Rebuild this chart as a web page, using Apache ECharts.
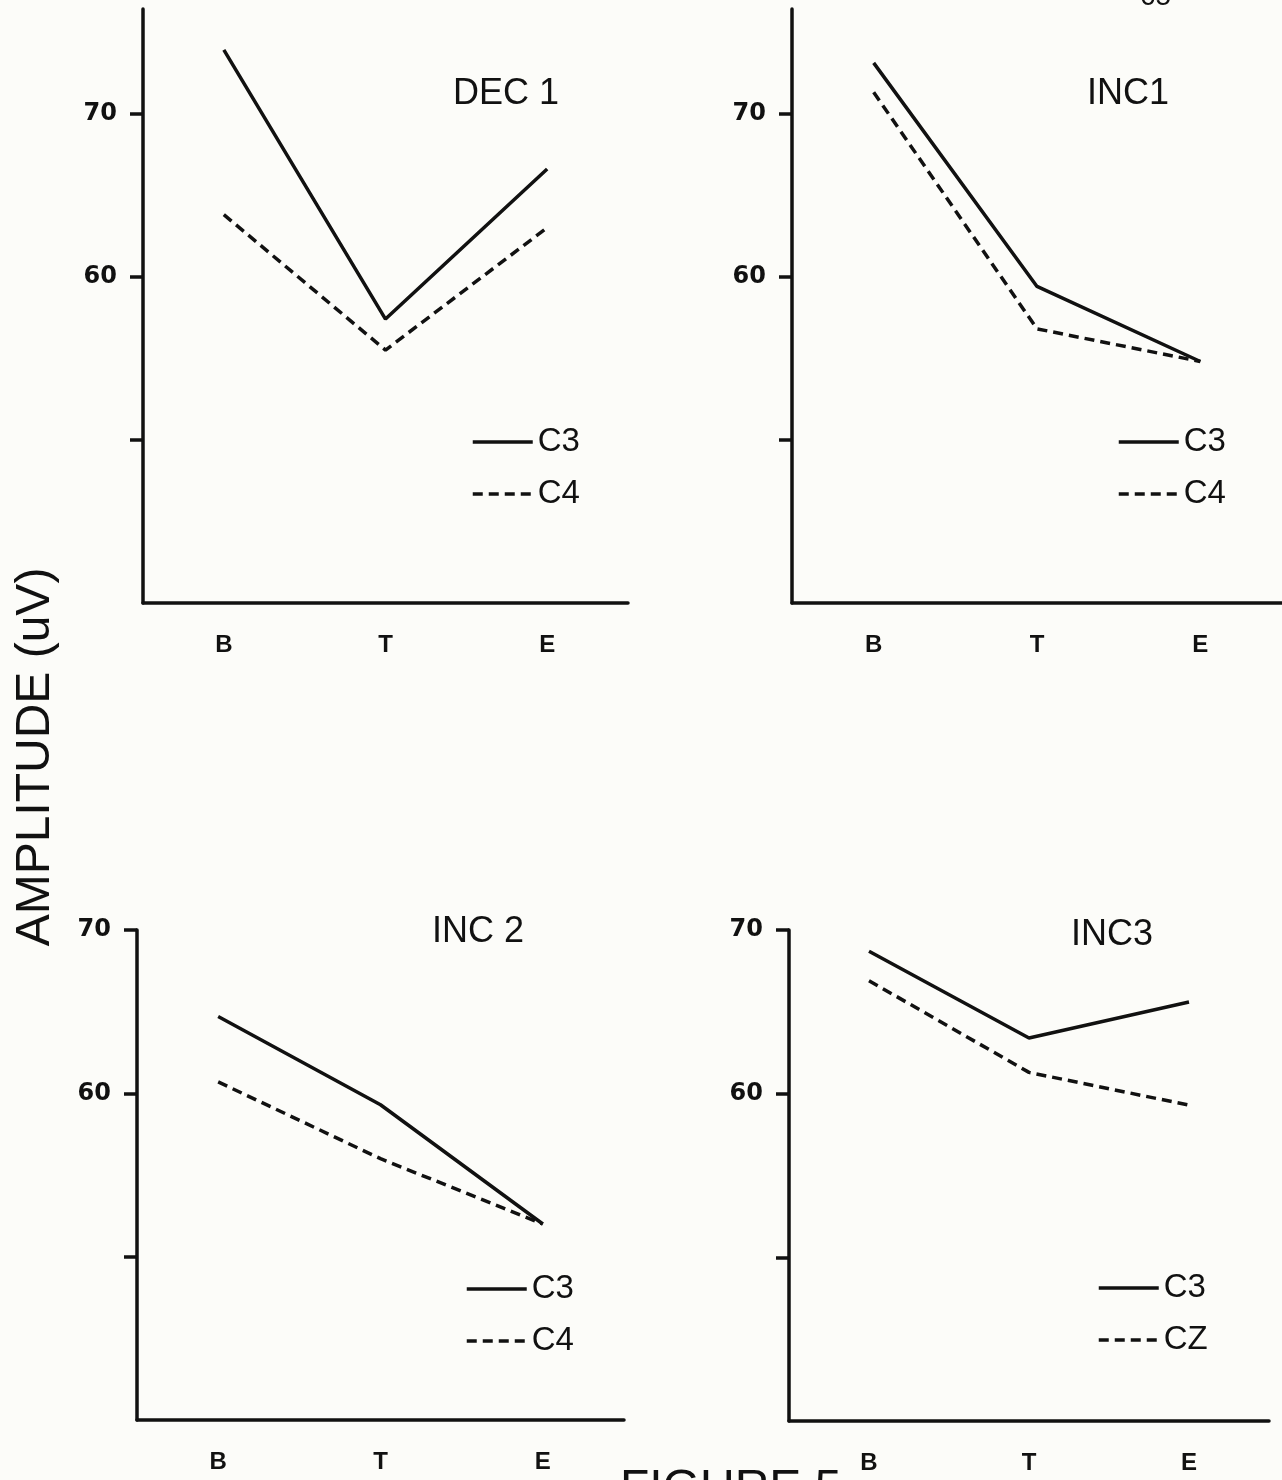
<!DOCTYPE html>
<html>
<head>
<meta charset="utf-8">
<script src="https://cdn.jsdelivr.net/npm/echarts@6/dist/echarts.min.js"></script>
<style>
  html, body { margin: 0; padding: 0; background: #fcfcf9; }
  #main { width: 1282px; height: 1480px; }
</style>
</head>
<body>
<div id="main"></div>
<script>
// 横轴分类
const phases = ["B", "T", "E"];
const panelTitles = ["DEC 1", "INC1", "INC 2", "INC3"];
const channelNames = [["C3", "C4"], ["C3", "C4"], ["C3", "C4"], ["C3", "CZ"]];

// 各面板数值 (uV)
const dec1C3 = [73.9, 57.4, 66.6];
const dec1C4 = [63.8, 55.5, 63.0];
const inc1C3 = [73.1, 59.4, 54.8];
const inc1C4 = [71.3, 56.8, 54.8];
const inc2C3 = [64.7, 59.3, 52.0];
const inc2C4 = [60.7, 56.0, 52.0];
const inc3C3 = [68.7, 63.4, 65.6];
const inc3CZ = [66.9, 61.3, 59.3];

// 纵轴刻度
const tickValues = [50, 60, 70];
const labelValues = [60, 70];

const panelData = [
  [dec1C3, dec1C4],
  [inc1C3, inc1C4],
  [inc2C3, inc2C4],
  [inc3C3, inc3CZ]
];

// 布局
const layout = [
  { left: 143, top: 9, width: 485, height: 594, yMax: 76.4, titleX: 453, titleY: 76, legX: 471, legY: 424 },
  { left: 792, top: 9, width: 490, height: 594, yMax: 76.4, titleX: 1087, titleY: 76, legX: 1117, legY: 424 },
  { left: 137, top: 930, width: 487, height: 490, yMax: 70, titleX: 432, titleY: 914, legX: 465, legY: 1271 },
  { left: 789, top: 930, width: 480, height: 491, yMax: 70, titleX: 1071, titleY: 917, legX: 1097, legY: 1270 }
];

const ink = "#111";
const font = "Liberation Sans";

let chart = echarts.init(document.getElementById("main"));

const grid = [], xAxis = [], yAxis = [], series = [], title = [], legend = [];

layout.forEach(function(p, i) {
  grid.push({ left: p.left, top: p.top, width: p.width, height: p.height, containLabel: false });
  xAxis.push({
    type: "category",
    gridIndex: i,
    data: phases,
    boundaryGap: true,
    axisLine: { onZero: false, lineStyle: { color: ink, width: 3.5 } },
    axisTick: { alignWithLabel: true, length: 13, lineStyle: { color: ink, width: 3.5 } },
    axisLabel: { color: ink, fontFamily: font, fontWeight: "bold", fontSize: 24, margin: 30 },
    splitLine: { show: false }
  });
  yAxis.push({
    type: "value",
    gridIndex: i,
    min: 40,
    max: p.yMax,
    interval: 10,
    axisLine: { show: true, lineStyle: { color: ink, width: 3.5 } },
    axisTick: { show: true, length: 13, customValues: tickValues, lineStyle: { color: ink, width: 3.5 } },
    axisLabel: { color: ink, fontFamily: "DejaVu Sans", fontWeight: "bold", fontSize: 24, margin: 26, customValues: labelValues },
    splitLine: { show: false }
  });
  title.push({
    text: panelTitles[i],
    left: p.titleX,
    top: p.titleY,
    padding: 0,
    textStyle: { color: ink, fontFamily: font, fontWeight: "normal", fontSize: 36 }
  });
  legend.push({
    data: channelNames[i],
    orient: "vertical",
    left: p.legX,
    top: p.legY,
    padding: 0,
    itemWidth: 60,
    itemHeight: 14,
    itemGap: 16,
    selectedMode: false,
    itemStyle: { opacity: 0 },
    lineStyle: { width: 3.5 },
    textStyle: { color: ink, fontFamily: font, fontSize: 33, lineHeight: 36 }
  });
  panelData[i].forEach(function(vals, k) {
    series.push({
      name: channelNames[i][k],
      type: "line",
      xAxisIndex: i,
      yAxisIndex: i,
      data: vals,
      symbol: "none",
      silent: true,
      color: ink,
      lineStyle: { color: ink, width: 3.5, type: k === 0 ? "solid" : [10, 6] }
    });
  });
});

chart.setOption({
  backgroundColor: "#fcfcf9",
  animation: false,
  title: title,
  legend: legend,
  grid: grid,
  xAxis: xAxis,
  yAxis: yAxis,
  series: series,
  graphic: [
    {
      type: "text",
      x: 36,
      y: 757,
      rotation: Math.PI / 2,
      style: { text: "AMPLITUDE (uV)", fill: ink, font: "48px 'Liberation Sans'", textAlign: "center", textVerticalAlign: "middle" }
    },
    {
      type: "text",
      x: 620,
      y: 1466,
      style: { text: "FIGURE 5", fill: ink, font: "48px 'Liberation Sans'", textAlign: "left", textVerticalAlign: "top" }
    },
    {
      type: "text",
      x: 1140,
      y: 11,
      style: { text: "65", fill: ink, font: "28px 'Liberation Sans'", textAlign: "left", textVerticalAlign: "bottom" }
    }
  ]
});
</script>
</body>
</html>
